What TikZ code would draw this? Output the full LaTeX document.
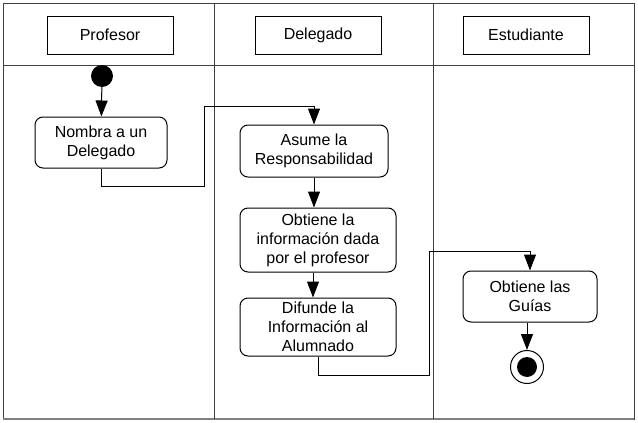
\documentclass[tikz,border=0pt]{standalone}
\usepackage{fontspec}
\setmainfont{Liberation Sans}
\usepackage{tikz}
\usetikzlibrary{calc,positioning,arrows.meta}

\begin{document}
\begin{tikzpicture}[x=1pt,y=-1pt,
    lane/.style={draw=black!75,line width=1pt},
    head/.style={draw,line width=1pt,minimum width=126pt,minimum height=38pt,
      font=\fontsize{16}{19}\selectfont},
    act/.style={draw,line width=1pt,rounded corners=8pt,align=center,
      inner sep=0pt,font=\fontsize{16}{19}\selectfont},
    flow/.style={line width=1pt,-{Triangle[length=16pt,width=12pt]}}]
    \useasboundingbox (0,0) rectangle (638,423);

    % swimlanes
    \draw[lane] (3,3) rectangle (634,419);
    \draw[draw=black!50,line width=1.4pt] (3,419) -- (634,419);
    \draw[lane] (3,65) -- (634,65);
    \draw[lane] (214,3) -- (214,419);
    \draw[lane] (433,3) -- (433,419);

    \node[head] (prof) at (110,35) {Profesor};
    \node[head] (dele) at (318,35) {Delegado};
    \node[head] (estu) at (526,35) {Estudiante};

    % actividades
    \node[circle,fill=black,minimum size=22pt,inner sep=0pt] (ini) at (102,76) {};
    \node[act,minimum width=132pt,minimum height=51pt] (nombra) at (101,142.5)
      {Nombra a un\\Delegado};
    \node[act,minimum width=148pt,minimum height=52pt] (asume) at (314,151)
      {Asume la\\Responsabilidad};
    \node[act,minimum width=156pt,minimum height=64pt] (obtiene) at (318,240)
      {Obtiene la\\información dada\\por el profesor};
    \node[act,minimum width=156pt,minimum height=58pt] (difunde) at (318,327)
      {Difunde la\\Información al\\Alumnado};
    \node[act,minimum width=134pt,minimum height=51pt] (guias) at (530,296.5)
      {Obtiene las\\Guías};
    \node[circle,draw,line width=1pt,minimum size=33pt,inner sep=0pt] (fin) at (527,367) {};
    \node[circle,fill=black,minimum size=20pt,inner sep=0pt] at (fin) {};

    \coordinate (c1) at (204,186);
    \coordinate (c2) at (314,106);
    \coordinate (c3) at (429,375);
    \coordinate (c4) at (530,251);

    \draw[flow] (ini) -- (nombra);
    \draw[flow] (nombra.south) |- (c1) |- (c2) -- (asume.north);
    \draw[flow] (asume.south) -- (asume.south |- obtiene.north);
    \draw[flow] (obtiene.south -| 313,0) -- (difunde.north -| 313,0);
    \draw[flow] (difunde.south) |- (c3) |- (c4) -- (guias.north);
    \draw[flow] (guias.south -| fin) -- (fin.north);
\end{tikzpicture}
\end{document}
